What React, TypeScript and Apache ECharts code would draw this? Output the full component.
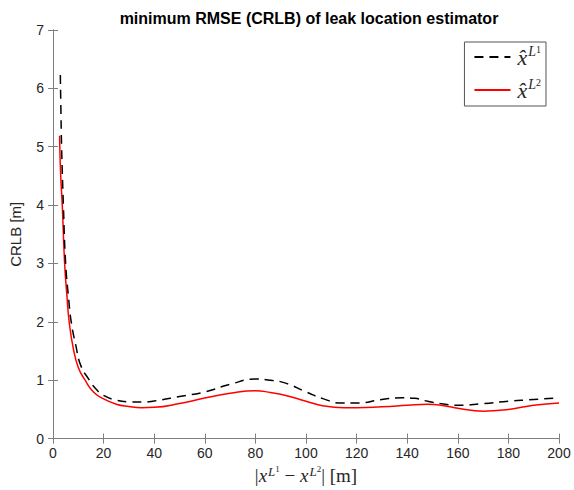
import React, { useEffect, useRef } from "react";
import * as echarts from "echarts";

const titleText = "minimum RMSE (CRLB) of leak location estimator";
const yName = "CRLB [m]";

const xL1 = [2.9, 3.1, 3.4, 4.1, 5.0, 6.2, 7.2, 9, 11, 14.4, 17, 20, 25, 30, 35, 40, 50, 60, 70, 80, 86, 92, 100, 107, 114, 120, 130, 138, 143, 148, 155, 160, 170, 180, 190, 200];
const yL1 = [6.23, 5.7, 5.0, 4.0, 3.0, 2.39, 2.0, 1.6, 1.25, 1.0, 0.85, 0.74, 0.66, 0.63, 0.625, 0.645, 0.72, 0.8, 0.93, 1.02, 1.0, 0.95, 0.8, 0.68, 0.61, 0.61, 0.67, 0.7, 0.69, 0.64, 0.59, 0.57, 0.6, 0.64, 0.67, 0.695];

const xL2 = [2.6, 3.0, 3.66, 4.6, 5.5, 6.4, 8, 10, 12.7, 16, 20, 25, 30, 35, 40, 50, 60, 70, 80, 86, 92, 100, 107, 115, 120, 130, 140, 148, 155, 160, 170, 180, 190, 200];
const yL2 = [5.19, 4.55, 4.0, 3.0, 2.45, 2.0, 1.55, 1.22, 1.0, 0.8, 0.68, 0.59, 0.55, 0.53, 0.535, 0.6, 0.695, 0.775, 0.82, 0.79, 0.74, 0.64, 0.56, 0.53, 0.53, 0.545, 0.57, 0.59, 0.56, 0.52, 0.47, 0.5, 0.57, 0.61];

const serif = "Liberation Serif";

export default function App() {
  const ref = useRef<HTMLDivElement>(null);
  useEffect(() => {
    if (!ref.current) return;
    const chart = echarts.init(ref.current, undefined, { renderer: "svg" });
    const axisLine = { lineStyle: { color: "#7f7f7f", width: 1 } };
    const tick = { inside: true, length: 5, lineStyle: { color: "#7f7f7f" } };
    const labelStyle = { color: "#262626", fontSize: 14, fontFamily: "Liberation Sans" };
    const rich = {
      n: { fontFamily: serif, fontSize: 19, color: "#262626" },
      i: { fontFamily: serif, fontStyle: "italic", fontSize: 19, color: "#262626" },
      s: { fontFamily: serif, fontStyle: "italic", fontSize: 13, color: "#262626", verticalAlign: "top", padding: [0, 0, 9, 1] },
      d: { fontFamily: serif, fontSize: 9, color: "#262626", verticalAlign: "top", padding: [0, 0, 2, 0] },
    };
    const lrich = {
      i: { fontFamily: serif, fontStyle: "italic", fontSize: 22, color: "#262626" },
      s: { fontFamily: serif, fontStyle: "italic", fontSize: 14, color: "#262626", verticalAlign: "top", padding: [0, 0, 10, 1] },
      d: { fontFamily: serif, fontSize: 10, color: "#262626", verticalAlign: "top", padding: [0, 0, 3, 0] },
    };
    chart.setOption({
      animation: false,
      backgroundColor: "#ffffff",
      title: {
        text: titleText,
        left: 304,
        textAlign: "center",
        top: 5,
        textStyle: { fontSize: 16, fontWeight: "bold", color: "#000", fontFamily: "Liberation Sans" },
      },
      grid: { left: 50, right: 15, top: 30, bottom: 48, containLabel: false },
      legend: {
        orient: "vertical",
        right: 28,
        top: 42,
        backgroundColor: "#fff",
        borderColor: "#555",
        borderWidth: 1,
        borderRadius: 0,
        padding: [2, 5, 3, 9],
        itemWidth: 36,
        itemHeight: 14,
        itemGap: 7,
        itemStyle: { opacity: 0 },
        data: ["L1", "L2"],
        formatter: (name: string) => (name === "L1" ? "{i|x̂}{s|L}{d|1}" : "{i|x̂}{s|L}{d|2}"),
        textStyle: { rich: lrich, lineHeight: 26, padding: [0, 0, 0, 2] },
      },
      xAxis: [
        {
          type: "value",
          min: 0,
          max: 200,
          interval: 20,
          axisLine,
          axisTick: tick,
          axisLabel: { ...labelStyle, margin: 7 },
          splitLine: { show: false },
          name: "{n||}{i|x}{s|L}{d|1}{n| − }{i|x}{s|L}{d|2}{n|| [m]}",
          nameLocation: "middle",
          nameGap: 24,
          nameTextStyle: { rich },
        },
        {
          type: "value",
          position: "top",
          min: 0,
          max: 200,
          interval: 20,
          axisLine,
          axisTick: tick,
          axisLabel: { show: false },
          splitLine: { show: false },
        },
      ],
      yAxis: [
        {
          type: "value",
          min: 0,
          max: 7,
          interval: 1,
          axisLine: { show: true, ...axisLine },
          axisTick: { show: true, ...tick },
          axisLabel: { ...labelStyle, margin: 9 },
          splitLine: { show: false },
          name: yName,
          nameLocation: "middle",
          nameGap: 30,
          nameTextStyle: { color: "#262626", fontSize: 15, fontFamily: "Liberation Sans" },
        },
        {
          type: "value",
          position: "right",
          min: 0,
          max: 7,
          interval: 1,
          axisLine: { show: true, ...axisLine },
          axisTick: { show: true, ...tick },
          axisLabel: { show: false },
          splitLine: { show: false },
        },
      ],
      series: [
        {
          name: "L1",
          type: "line",
          data: xL1.map((x, k) => [x, yL1[k]]),
          smooth: 0.5,
          showSymbol: false,
          symbol: "none",
          lineStyle: { color: "#000", width: 1.5, type: [9, 6] },
          itemStyle: { color: "#000" },
          z: 3,
        },
        {
          name: "L2",
          type: "line",
          data: xL2.map((x, k) => [x, yL2[k]]),
          smooth: 0.5,
          showSymbol: false,
          symbol: "none",
          lineStyle: { color: "#ff0000", width: 1.5 },
          itemStyle: { color: "#ff0000" },
          z: 2,
        },
      ],
    });
    return () => chart.dispose();
  }, []);
  return <div ref={ref} style={{ width: 574, height: 490, position: "absolute", left: 0, top: 0 }} />;
}
